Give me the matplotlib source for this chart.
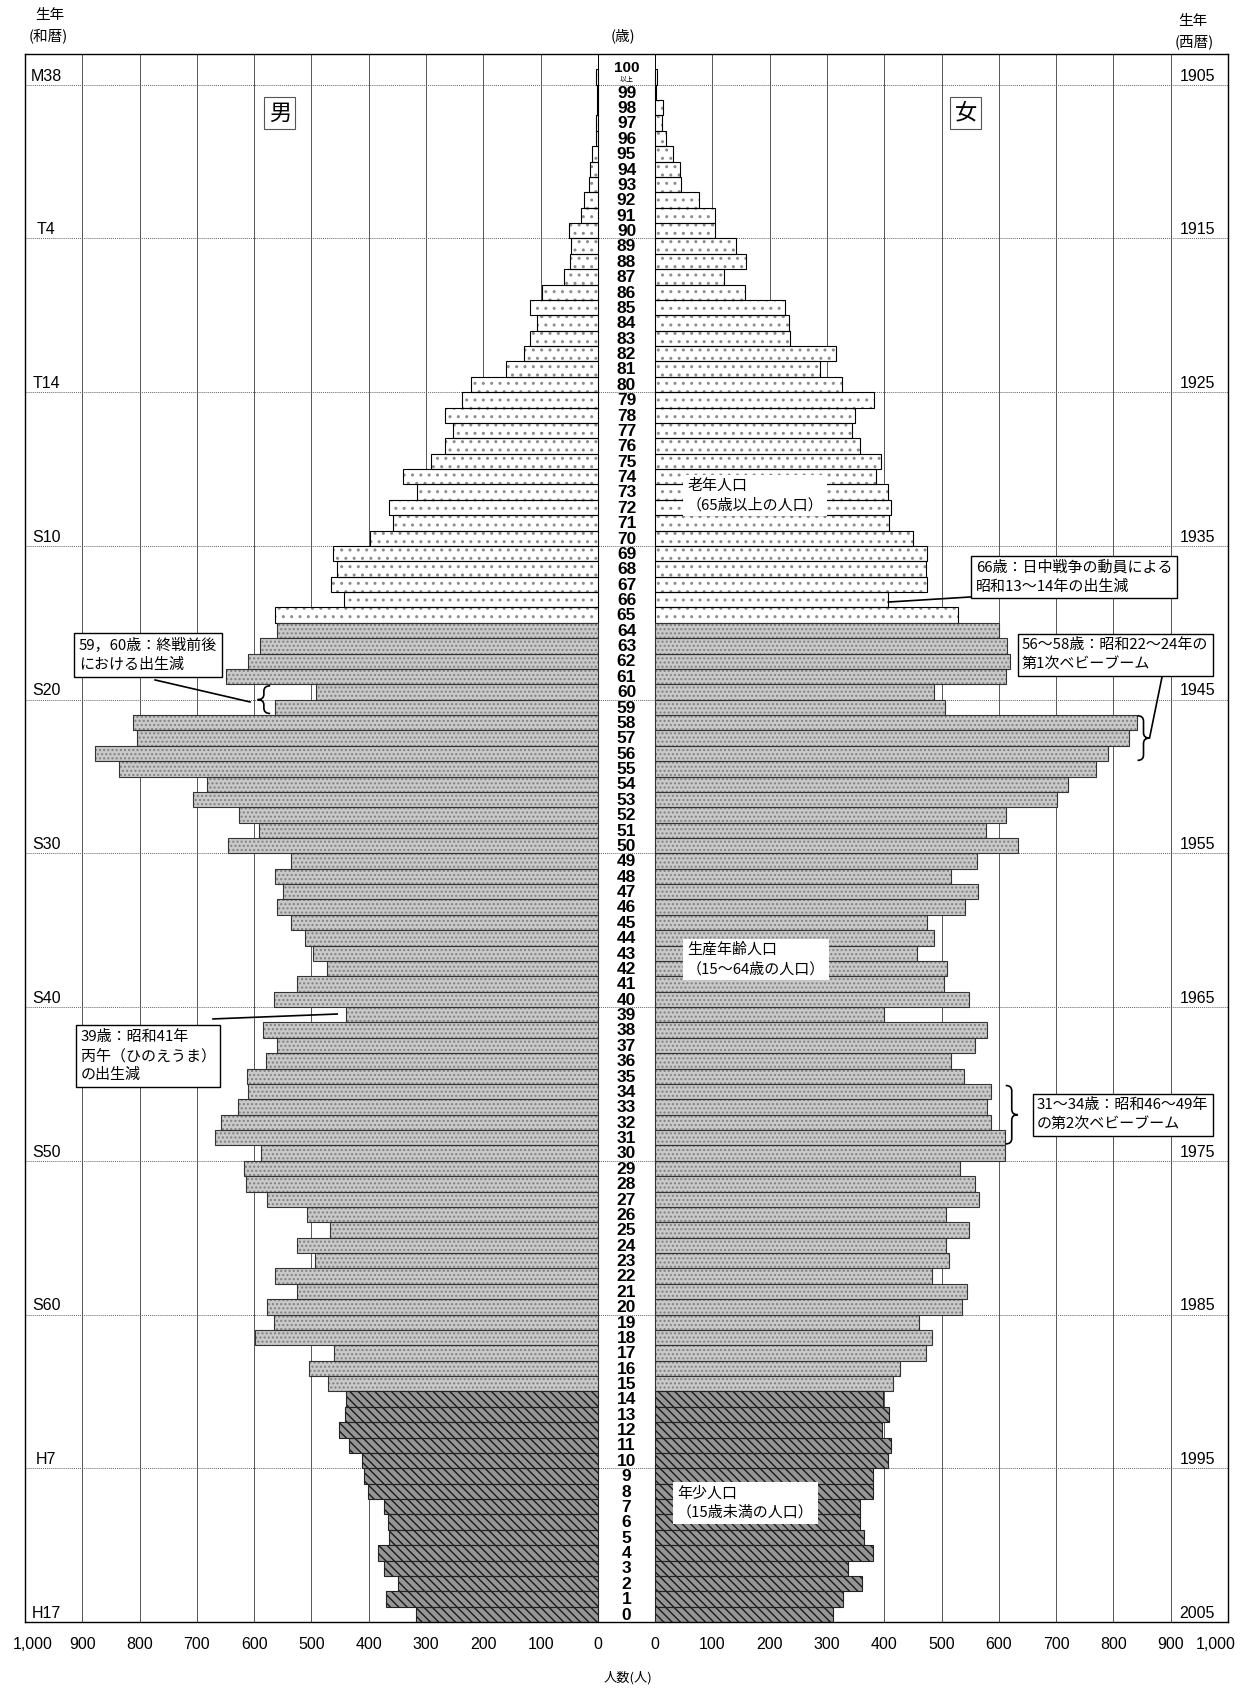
import numpy as np
import matplotlib
matplotlib.use('Agg')
import matplotlib.pyplot as plt
from matplotlib.path import Path
from matplotlib.patches import PathPatch

plt.rcParams['font.family'] = ['Noto Sans CJK JP', 'DejaVu Sans']
plt.rcParams['hatch.linewidth'] = 1.0

NUM_FONT = ['Liberation Sans Narrow', 'Liberation Sans', 'DejaVu Sans']
AGE_FONT = ['Liberation Sans', 'DejaVu Sans']

# ---- data (persons), index = age 0..100 ----
ages = np.arange(0, 101)
male = np.array([
    317, 369, 349, 373, 383, 365, 367, 373, 401, 409,   # 0-9
    411, 434, 451, 441, 439, 471, 505, 460, 598, 565,   # 10-19
    578, 526, 564, 494, 526, 467, 507, 577, 615, 618,   # 20-29
    588, 668, 657, 629, 610, 613, 580, 560, 585, 439,   # 30-39
    566, 525, 472, 497, 512, 535, 560, 549, 563, 536,   # 40-49
    645, 591, 627, 706, 682, 836, 878, 804, 811, 563,   # 50-59
    492, 650, 610, 589, 560, 564, 444, 465, 455, 463,   # 60-69
    398, 357, 365, 315, 340, 291, 267, 252, 267, 238,   # 70-79
    221, 161, 129, 118, 106, 118, 98, 59, 49, 47,       # 80-89
    50, 30, 24, 16, 13, 10, 4, 4, 2, 1,                 # 90-99
    3])                                                 # 100+
female = np.array([
    310, 328, 361, 337, 381, 364, 357, 358, 381, 381,
    407, 411, 396, 408, 398, 416, 428, 472, 484, 460,
    535, 545, 483, 513, 508, 548, 507, 566, 559, 533,
    611, 611, 587, 580, 587, 540, 516, 559, 580, 400,
    548, 504, 509, 457, 486, 474, 541, 564, 516, 562,
    634, 578, 612, 702, 721, 769, 791, 827, 841, 506,
    486, 612, 619, 614, 601, 529, 407, 474, 473, 475,
    450, 408, 412, 407, 385, 395, 358, 344, 349, 382,
    326, 288, 316, 235, 234, 227, 157, 120, 159, 141,
    105, 104, 76, 45, 43, 31, 19, 12, 13, 1,
    3])

tick_vals = [1000, 900, 800, 700, 600, 500, 400, 300, 200, 100, 0]
era_labels = ['M38', 'T4', 'T14', 'S10', 'S20', 'S30', 'S40', 'S50', 'S60', 'H7', 'H17']
year_labels = ['1905', '1915', '1925', '1935', '1945', '1955', '1965', '1975', '1985', '1995', '2005']
era_ages = [100, 90, 80, 70, 60, 50, 40, 30, 20, 10, 0]

G = 50  # half width of the central age column

fig = plt.figure(figsize=(12.45, 16.89), dpi=100)
ax = fig.add_axes([25 / 1245, 67 / 1689, 1203 / 1245, 1568 / 1689])
ax.set_xlim(-1050, 1050)
ax.set_ylim(-0.5, 101.5)

# vertical grid
for v in range(0, 1000, 100):
    c = 'black' if v == 0 else '#555555'
    ax.axvline(-(G + v), color=c, lw=0.7, zorder=0)
    ax.axvline(G + v, color=c, lw=0.7, zorder=0)

# dashed birth-year lines
for a in era_ages[:-1]:
    ax.axhline(a - 0.5, color='#666666', lw=0.7, ls=(0, (1, 1)), zorder=0.5)

groups = [
    (ages >= 65, 'white', '#8c8c8c', '..', 'black'),
    ((ages >= 15) & (ages < 65), '#c9c9c9', '#808080', '....', '#333333'),
    (ages < 15, '#969696', '#1a1a1a', '\\\\\\\\', '#222222'),
]
for m, fc, hc, hatch, ec in groups:
    ax.barh(ages[m], -male[m], left=-G, height=1.0, color=fc, edgecolor=hc,
            hatch=hatch, lw=0, zorder=2)
    ax.barh(ages[m], female[m], left=G, height=1.0, color=fc, edgecolor=hc,
            hatch=hatch, lw=0, zorder=2)
    ax.barh(ages[m], -male[m], left=-G, height=1.0, fill=False, edgecolor=ec,
            lw=0.8, zorder=3)
    ax.barh(ages[m], female[m], left=G, height=1.0, fill=False, edgecolor=ec,
            lw=0.8, zorder=3)

# age labels in the centre column
for a in ages[:-1]:
    ax.text(0, a - 0.05, str(a), ha='center', va='center', fontsize=12.5,
            fontweight='bold', family=AGE_FONT, zorder=4)
ax.text(0, 100.62, '100', ha='center', va='center', fontsize=11,
        fontweight='bold', family=AGE_FONT, zorder=4)
ax.text(0, 99.8, '以上', ha='center', va='center', fontsize=5, zorder=4)

# era / year labels
for a, e, yr in zip(era_ages, era_labels, year_labels):
    ax.text(-1013, a - 0.42, e, ha='center', va='bottom', fontsize=11.5,
            family=NUM_FONT, zorder=4)
    ax.text(996, a - 0.42, yr, ha='center', va='bottom', fontsize=11.5,
            family=NUM_FONT, zorder=4)

# x ticks (outermost labels pulled in a little, as in the source)
pos = [-(G + v) for v in tick_vals] + [G + v for v in tick_vals[::-1]]
pos[0] += 14
pos[-1] -= 22
labs = [f'{v:,}' for v in tick_vals] + [f'{v:,}' for v in tick_vals[::-1]]
ax.set_xticks(pos, labs, fontsize=11.5, family=NUM_FONT)
ax.set_yticks([])
ax.tick_params(axis='x', length=0, pad=11)
for s in ax.spines.values():
    s.set_linewidth(1.0)
    s.set_color('black')

# sex labels
for x, t in [(-605, '男'), (592, '女')]:
    ax.text(x, 97.66, t, ha='center', va='center', fontsize=16, zorder=6,
            bbox=dict(boxstyle='square,pad=0.2', fc='white', ec='#555555', lw=0.8))

# group labels (white boxes)
for x, y, t in [(105.6, 72.8, '老年人口\n（65歳以上の人口）'),
                (105.6, 42.6, '生産年齢人口\n（15～64歳の人口）'),
                (88.2, 7.24, '年少人口\n（15歳未満の人口）')]:
    ax.text(x, y, t, ha='left', va='center', fontsize=10.8, linespacing=1.45,
            zorder=6, bbox=dict(boxstyle='square,pad=0.25', fc='white', ec='none'))

# comment boxes
notes = [(610, 67.48, '66歳：日中戦争の動員による\n昭和13～14年の出生減'),
         (690.4, 62.41, '56～58歳：昭和22～24年の\n第1次ベビーブーム'),
         (-955.9, 62.41, '59，60歳：終戦前後\nにおける出生減'),
         (-952.4, 36.32, '39歳：昭和41年\n丙午（ひのえうま）\nの出生減'),
         (716.6, 32.49, '31～34歳：昭和46～49年\nの第2次ベビーブーム')]
for x, y, t in notes:
    ax.text(x, y, t, ha='left', va='center', fontsize=10.8, linespacing=1.45,
            zorder=6, bbox=dict(boxstyle='square,pad=0.3', fc='white', ec='black', lw=1.0))

# leader lines
leaders = [((G + female[66], 65.85), (601.4, 66.18)),
           ((913, 57.0), (934.8, 60.97)),
           ((-822.9, 60.78), (-657.2, 59.35)),
           ((-721.8, 38.73), (-(G + male[39]) - 16, 39.05))]
for (x0, y0), (x1, y1) in leaders:
    ax.plot([x0, x1], [y0, y1], color='black', lw=1.2, zorder=5)


def brace(x0, w, y0, y1, d=0.35):
    ym = (y0 + y1) / 2
    xm = x0 + w / 2
    verts = [(x0, y1), (xm, y1), (xm, y1 - d), (xm, ym + d), (xm, ym), (x0 + w, ym),
             (xm, ym), (xm, ym - d), (xm, y0 + d), (xm, y0), (x0, y0)]
    codes = [Path.MOVETO, Path.CURVE3, Path.CURVE3, Path.LINETO, Path.CURVE3, Path.CURVE3,
             Path.CURVE3, Path.CURVE3, Path.LINETO, Path.CURVE3, Path.CURVE3]
    ax.add_patch(PathPatch(Path(verts, codes), fc='none', ec='black', lw=1.2, zorder=5))


brace(892, 21, 55.55, 58.45)
brace(-622, -22, 58.6, 60.4)
brace(662, 21, 30.6, 34.4)

# headers
def ftext(x, y, t, **kw):
    fig.text(x / 1245, 1 - y / 1689, t, ha='center', va='center', **kw)


ftext(50, 15, '生年', fontsize=10.5)
ftext(48, 37, '(和暦)', fontsize=10.5)
ftext(623, 36, '(歳)', fontsize=10.5)
ftext(1193, 21, '生年', fontsize=10.5)
ftext(1194, 42, '(西暦)', fontsize=10.5)
ftext(628, 1678, '人数(人)', fontsize=9.5)

fig.savefig('out.png', dpi=100)
